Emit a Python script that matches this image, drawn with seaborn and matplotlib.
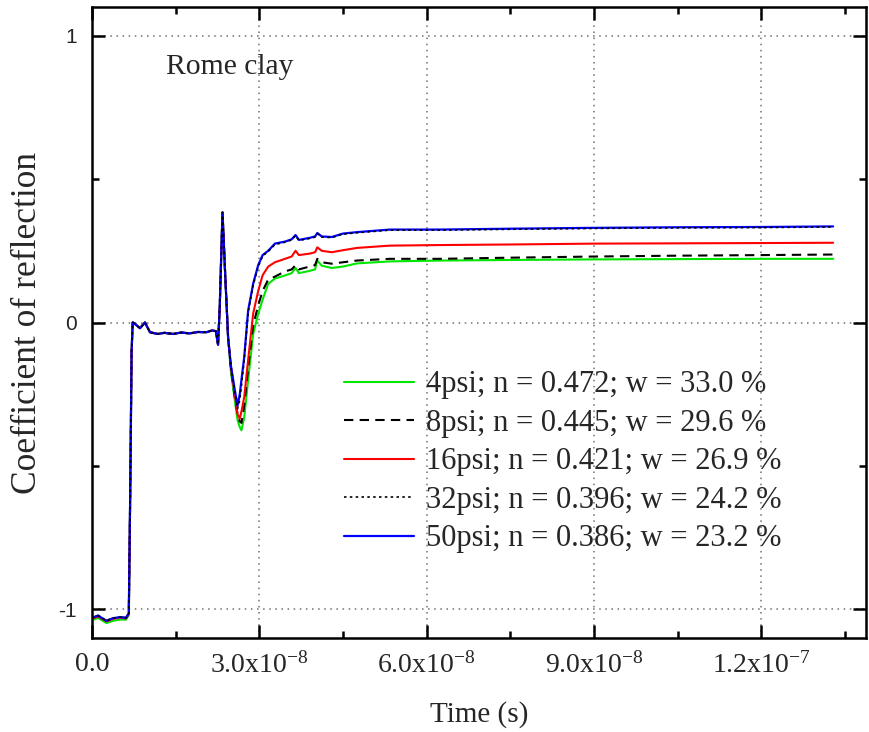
import numpy as np
import pandas as pd
import matplotlib
matplotlib.use("Agg")
import matplotlib.pyplot as plt
from matplotlib.ticker import MultipleLocator, FixedLocator, FixedFormatter
import seaborn as sns

# ---------------- data ----------------
time_ns = [0.0, 1.1, 2.6, 3.8, 5.0, 6.1, 6.6, 6.85, 7.1, 7.3, 7.6, 8.6, 9.5, 10.4,
           11.8, 13.0, 14.5, 16.0, 17.5, 19.0, 20.5, 21.5, 22.2, 22.6, 22.9, 23.4,
           23.9, 24.4, 24.9, 25.6, 26.1, 26.5, 26.8, 27.3, 28.0, 28.9, 29.8, 30.6,
           31.6, 32.8, 34.6, 35.8, 36.5, 37.1, 39.0, 40.0, 40.4, 41.2, 43.0, 45.0,
           47.5, 53.4, 62.4, 75.0, 90.0, 105.0, 120.0, 132.9]

_start = [-0.60, -0.10, 0.000, -0.003, -0.020, 0.000, -0.034, -0.040, -0.036, -0.040,
          -0.035, -0.038, -0.033, -0.034, -0.028, -0.030, -0.077, 0.05, 0.384, 0.16, -0.05]

psi50 = [-1.030, -1.022, -1.040, -1.031, -1.027, -1.030, -1.014] + _start + \
        [-0.150, -0.235, -0.290, -0.250, -0.200, -0.120, 0.042, 0.135, 0.200, 0.235,
         0.250, 0.275, 0.282, 0.290, 0.305, 0.288, 0.295, 0.300, 0.312, 0.300, 0.298,
         0.310, 0.315, 0.324, 0.324, 0.327, 0.330, 0.332, 0.333, 0.335]
psi32 = [-1.030, -1.022, -1.040, -1.031, -1.027, -1.030, -1.014] + _start + \
        [-0.150, -0.240, -0.300, -0.270, -0.220, -0.130, 0.035, 0.130, 0.195, 0.232,
         0.248, 0.272, 0.280, 0.288, 0.303, 0.286, 0.293, 0.298, 0.310, 0.298, 0.296,
         0.308, 0.313, 0.322, 0.322, 0.325, 0.328, 0.330, 0.331, 0.333]
psi16 = [-1.032, -1.025, -1.042, -1.033, -1.029, -1.032, -1.016] + _start + \
        [-0.155, -0.250, -0.320, -0.335, -0.310, -0.260, -0.130, 0.031, 0.110, 0.165,
         0.195, 0.210, 0.222, 0.230, 0.250, 0.235, 0.240, 0.245, 0.262, 0.250, 0.245,
         0.252, 0.260, 0.268, 0.270, 0.272, 0.275, 0.276, 0.277, 0.278]
psi8 = [-1.030, -1.022, -1.040, -1.031, -1.027, -1.030, -1.014] + _start + \
       [-0.160, -0.260, -0.320, -0.345, -0.350, -0.290, -0.160, -0.010, 0.060, 0.110,
        0.150, 0.160, 0.178, 0.185, 0.200, 0.185, 0.195, 0.200, 0.222, 0.210, 0.205,
        0.210, 0.216, 0.222, 0.222, 0.226, 0.230, 0.233, 0.235, 0.237]
psi4 = [-1.038, -1.030, -1.048, -1.040, -1.036, -1.036, -1.020] + _start + \
       [-0.170, -0.270, -0.340, -0.365, -0.376, -0.330, -0.200, -0.040, 0.030, 0.080,
        0.135, 0.153, 0.164, 0.172, 0.190, 0.172, 0.180, 0.185, 0.216, 0.198, 0.190,
        0.195, 0.206, 0.213, 0.216, 0.218, 0.220, 0.221, 0.222, 0.222]

labels = ["4psi; n = 0.472; w = 33.0 %",
          "8psi; n = 0.445; w = 29.6 %",
          "16psi; n = 0.421; w = 26.9 %",
          "32psi; n = 0.396; w = 24.2 %",
          "50psi; n = 0.386; w = 23.2 %"]

xtick_vals = [0.0, 3.0e-8, 6.0e-8, 9.0e-8, 1.2e-7]
xtick_labels = ["0.0", "3.0x10$^{-8}$", "6.0x10$^{-8}$", "9.0x10$^{-8}$", "1.2x10$^{-7}$"]
ytick_vals = [-1, 0, 1]
ytick_labels = ["-1", "0", "1"]

# ---------------- style ----------------
sns.set_style("white")
plt.rcParams["font.family"] = ["Liberation Serif", "DejaVu Serif"]
plt.rcParams["mathtext.fontset"] = "custom"
plt.rcParams["mathtext.rm"] = "Liberation Serif"
plt.rcParams["mathtext.it"] = "Liberation Serif:italic"
plt.rcParams["axes.unicode_minus"] = False

t_s = np.array(time_ns) * 1e-9
series = [
    (psi4, labels[0], "#00e600", "-", 1.5),
    (psi8, labels[1], "black", (0, (4.5, 3.0)), 1.5),
    (psi16, labels[2], "#ff0000", "-", 1.5),
    (psi32, labels[3], "black", (0, (1.5, 2.0)), 1.2),
    (psi50, labels[4], "#0000ff", "-", 1.6),
]

fig = plt.figure(figsize=(8.69, 7.32), dpi=100)
ax = fig.add_axes([92 / 869, 1 - 638 / 732, (866 - 92) / 869, (638 - 7) / 732])

draw_order = [0, 1, 2, 4, 3]
handles = {}
for i in draw_order:
    vals, lab, col, ls, lw = series[i]
    df = pd.DataFrame({"t": t_s, "r": vals})
    sns.lineplot(data=df, x="t", y="r", ax=ax, color=col, linestyle=ls,
                 linewidth=lw, estimator=None, sort=False, label=lab)
    handles[i] = ax.lines[-1]

ax.set_xlim(0, (866 - 92) / 167.3 * 3e-8)
ax.set_ylim(-1.1, 1.1)

ax.xaxis.set_major_locator(FixedLocator(xtick_vals))
ax.xaxis.set_major_formatter(FixedFormatter(xtick_labels))
ax.xaxis.set_minor_locator(MultipleLocator(1.5e-8))
ax.yaxis.set_major_locator(FixedLocator(ytick_vals))
ax.yaxis.set_major_formatter(FixedFormatter(ytick_labels))
ax.yaxis.set_minor_locator(MultipleLocator(0.5))

ax.tick_params(which="both", direction="in", top=True, right=True,
               bottom=True, left=True, color="black")
ax.tick_params(which="major", length=9.5, width=1.8)
ax.tick_params(which="minor", length=5, width=1.8)
ax.tick_params(axis="x", which="major", labelsize=20, pad=10)
ax.tick_params(axis="y", which="major", labelsize=15, pad=11)
for lab in ax.get_yticklabels():
    lab.set_family(["Liberation Sans", "DejaVu Sans"])

for sp in ax.spines.values():
    sp.set_linewidth(1.8)
    sp.set_color("black")

ax.grid(True, which="major", linestyle=(0, (1, 3)), color="#707070", linewidth=1.1)

ax.set_xlabel("Time (s)", fontsize=21, labelpad=16)
ax.set_ylabel("Coefficient of reflection", fontsize=25.5, labelpad=10)

ax.text(0.095, 0.905, "Rome clay", transform=ax.transAxes, fontsize=21.3,
        ha="left", va="center")

leg = ax.legend([handles[i] for i in range(5)], labels, loc="upper left",
                bbox_to_anchor=(0.325, 0.424), frameon=False, fontsize=22,
                handlelength=2.3, handletextpad=0.4, labelspacing=0.31,
                borderpad=0, borderaxespad=0)

fig.savefig("out.png", dpi=100)
